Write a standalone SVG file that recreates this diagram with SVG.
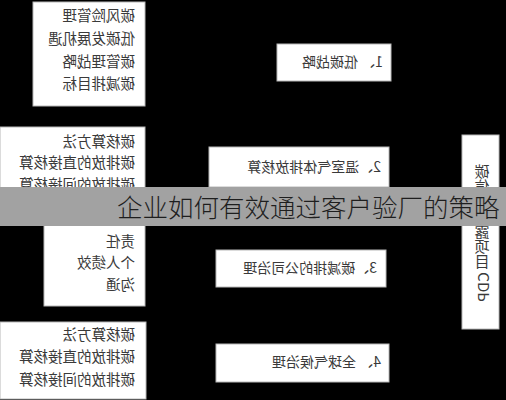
<svg xmlns="http://www.w3.org/2000/svg" width="506" height="400" viewBox="0 0 506 400">
<style>
.box{fill:#fff;stroke:#b8b8b8;stroke-width:1}
.t{font-family:"Noto Sans CJK SC","Noto Sans",sans-serif;font-size:14.5px;fill:#3a3a3a}
.m{font-family:"Noto Sans CJK SC","Noto Sans",sans-serif;font-size:14px;fill:#3a3a3a}
.title{font-family:"Noto Sans CJK SC","Noto Sans",sans-serif;font-size:25.5px;fill:#1e1e1e;font-weight:300}
</style>
<rect x="0" y="0" width="506" height="400" fill="#000"/>
<g id="connectors"></g>
<g id="left1">
<rect class="box" x="33" y="2" width="112" height="104"/>
<text class="t" transform="translate(135,21) scale(-1,1)">碳风险管理</text>
<text class="t" transform="translate(135,44) scale(-1,1)">低碳发展机遇</text>
<text class="t" transform="translate(135,67) scale(-1,1)">碳管理战略</text>
<text class="t" transform="translate(135,89) scale(-1,1)">碳减排目标</text>
</g>
<g id="left2">
<rect class="box" x="0" y="127" width="145" height="76"/>
<text class="t" transform="translate(135,147) scale(-1,1)">碳核算方法</text>
<text class="t" transform="translate(135,168) scale(-1,1)">碳排放的直接核算</text>
<text class="t" transform="translate(135,190) scale(-1,1)">碳排放的间接核算</text>
</g>
<g id="left3">
<rect class="box" x="44" y="214" width="101" height="92"/>
<text class="t" transform="translate(135,247) scale(-1,1)">责任</text>
<text class="t" transform="translate(135,268) scale(-1,1)">个人绩效</text>
<text class="t" transform="translate(135,290) scale(-1,1)">沟通</text>
</g>
<g id="left4">
<rect class="box" x="0" y="322" width="146" height="77"/>
<text class="t" transform="translate(135,340) scale(-1,1)">碳核算方法</text>
<text class="t" transform="translate(135,362) scale(-1,1)">碳排放的直接核算</text>
<text class="t" transform="translate(135,385) scale(-1,1)">碳排放的间接核算</text>
</g>
<g id="mid1">
<rect class="box" x="277" y="44" width="114" height="37"/>
<text class="m" transform="translate(383,67) scale(-1,1)">1、 低碳战略</text>
</g>
<g id="mid2">
<rect class="box" x="209" y="147" width="180" height="40"/>
<text class="m" transform="translate(381,172) scale(-1,1)">2、温室气体排放核算</text>
</g>
<g id="mid3">
<rect class="box" x="216" y="250" width="170" height="37"/>
<text class="m" transform="translate(377,273) scale(-1,1)">3、碳减排的公司治理</text>
</g>
<g id="mid4">
<rect class="box" x="216" y="344" width="173" height="38"/>
<text class="m" transform="translate(381,367) scale(-1,1)">4、 全球气候治理</text>
</g>
<g id="right">
<rect class="box" x="462" y="135" width="37" height="194"/>
<text class="t" writing-mode="tb" style="font-size:15px" transform="translate(482,164) scale(-1,1)">碳信息披露项目 CDP</text>
</g>
<g id="banner">
<rect x="0" y="187" width="506" height="39" fill="#a2a2a2"/>
<text class="title" x="117" y="217">企业如何有效通过客户验厂的策略</text>
</g>
</svg>
